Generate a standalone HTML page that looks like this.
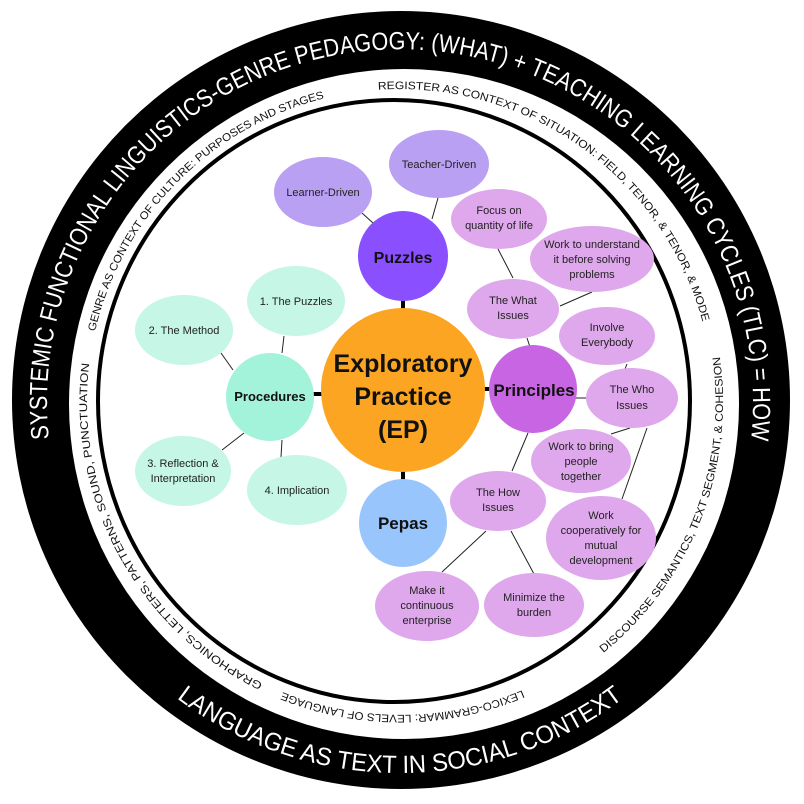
<!DOCTYPE html>
<html><head><meta charset="utf-8"><style>
html,body{margin:0;padding:0;background:#fff;}
svg{display:block;}
.t{font-family:"Liberation Sans",sans-serif;font-size:11px;fill:#222;text-anchor:middle;}
.b{font-family:"Liberation Sans",sans-serif;font-weight:bold;fill:#111;text-anchor:middle;}
.r{font-family:"Liberation Sans",sans-serif;font-size:11px;fill:#111;}
.o{font-family:"Liberation Sans",sans-serif;fill:#fff;}
</style></head><body>
<svg width="804" height="804" viewBox="0 0 804 804" xmlns="http://www.w3.org/2000/svg">
<defs>
<path id="pSys" d="M48.9,438.9 A353,353 0 1 1 751.1,438.9"/>
<path id="pLang" d="M176.7,698.3 A371,371 0 0 0 623.3,698.3"/>
<path id="pGenre" d="M95,331.6 A314,314 0 0 1 324.3,98.3"/>
<path id="pReg" d="M378.2,89.8 A314,314 0 0 1 702.3,321"/>
<path id="pLex" d="M522.3,690.1 A314,314 0 0 1 282.8,692.2"/>
<path id="pGra" d="M262.8,683.3 A314,314 0 0 1 89.3,363.8"/>
<path id="pDis" d="M603.3,653 A323,323 0 0 0 719.9,357"/>
</defs>
<circle cx="401" cy="400" r="389" fill="#000"/>
<circle cx="404" cy="404" r="335" fill="#fff"/>
<ellipse cx="394" cy="401" rx="296" ry="301" fill="none" stroke="#000" stroke-width="4"/>

<text class="o" font-size="25"><textPath href="#pSys" textLength="1183" lengthAdjust="spacingAndGlyphs">SYSTEMIC FUNCTIONAL LINGUISTICS-GENRE PEDAGOGY: (WHAT) + TEACHING LEARNING CYCLES (TLC) = HOW</textPath></text>
<text class="o" font-size="25"><textPath href="#pLang" textLength="479" lengthAdjust="spacingAndGlyphs">LANGUAGE AS TEXT IN SOCIAL CONTEXT</textPath></text>
<text class="r"><textPath href="#pGenre" textLength="344" lengthAdjust="spacingAndGlyphs">GENRE AS CONTEXT OF CULTURE: PURPOSES AND STAGES</textPath></text>
<text class="r"><textPath href="#pReg" textLength="432" lengthAdjust="spacingAndGlyphs">REGISTER AS CONTEXT OF SITUATION: FIELD, TENOR, &amp; TENOR, &amp; MODE</textPath></text>
<text class="r"><textPath href="#pLex" textLength="246" lengthAdjust="spacingAndGlyphs">LEXICO-GRAMMAR: LEVELS OF LANGUAGE</textPath></text>
<text class="r"><textPath href="#pGra" textLength="388" lengthAdjust="spacingAndGlyphs">GRAPHONICS, LETTERS, PATTERNS, SOUND, PUNCTUATION</textPath></text>
<text class="r"><textPath href="#pDis" textLength="333" lengthAdjust="spacingAndGlyphs">DISCOURSE SEMANTICS, TEXT SEGMENT, &amp; COHESION</textPath></text>

<g stroke="#222" stroke-width="1">
<line x1="362" y1="213" x2="373" y2="223"/>
<line x1="438" y1="198" x2="432" y2="219"/>
<line x1="284" y1="336" x2="282" y2="353"/>
<line x1="221" y1="353" x2="233" y2="370"/>
<line x1="222" y1="450" x2="244" y2="433"/>
<line x1="282" y1="440" x2="281" y2="457"/>
<line x1="498" y1="249" x2="513" y2="278"/>
<line x1="592" y1="292" x2="560" y2="306"/>
<line x1="527" y1="338" x2="530" y2="347"/>
<line x1="576" y1="398" x2="587" y2="398"/>
<line x1="627" y1="364" x2="625" y2="369"/>
<line x1="611" y1="434" x2="630" y2="428"/>
<line x1="647" y1="428" x2="622" y2="499"/>
<line x1="528" y1="433" x2="512" y2="471"/>
<line x1="486" y1="531" x2="442" y2="572"/>
<line x1="511" y1="531" x2="534" y2="574"/>
</g>
<g stroke="#000" stroke-width="4">
<line x1="403" y1="300" x2="403" y2="310"/>
<line x1="312" y1="394" x2="323" y2="394"/>
<line x1="483" y1="389" x2="492" y2="389"/>
<line x1="403" y1="470" x2="403" y2="481"/>
</g>

<!-- purple lights -->
<ellipse cx="323" cy="192" rx="49" ry="35" fill="#B9A0F2"/>
<ellipse cx="439" cy="164" rx="50" ry="34" fill="#B9A0F2"/>
<circle cx="403" cy="256" r="45" fill="#8A4FFF"/>
<!-- teal -->
<ellipse cx="296" cy="301" rx="49" ry="35" fill="#C6F6E6"/>
<ellipse cx="184" cy="330" rx="49" ry="35" fill="#C6F6E6"/>
<ellipse cx="183" cy="471" rx="48" ry="35" fill="#C6F6E6"/>
<ellipse cx="297" cy="490" rx="50" ry="35" fill="#C6F6E6"/>
<circle cx="270" cy="397" r="44" fill="#A3F2DA"/>
<!-- pinks -->
<g fill="#DFA7EC">
<ellipse cx="499" cy="219" rx="48" ry="30"/>
<ellipse cx="592" cy="259" rx="62" ry="33"/>
<ellipse cx="513" cy="309" rx="46" ry="30"/>
<ellipse cx="607" cy="336" rx="48" ry="29"/>
<ellipse cx="632" cy="398" rx="46" ry="30"/>
<ellipse cx="581" cy="461" rx="50" ry="32"/>
<ellipse cx="498" cy="501" rx="48" ry="30"/>
<ellipse cx="601" cy="538" rx="55" ry="42"/>
<ellipse cx="427" cy="606" rx="52" ry="35"/>
<ellipse cx="534" cy="605" rx="50" ry="32"/>
</g>
<circle cx="533" cy="389" r="44" fill="#C765E2"/>
<circle cx="403" cy="523" r="44" fill="#98C6FC"/>
<circle cx="403" cy="390" r="82" fill="#FBA522"/>

<text class="t" x="323" y="196">Learner-Driven</text>
<text class="t" x="439" y="168">Teacher-Driven</text>
<text class="b" x="403" y="263" font-size="16">Puzzles</text>
<text class="t" x="296" y="305">1. The Puzzles</text>
<text class="t" x="184" y="334">2. The Method</text>
<text class="t" x="183" y="467">3. Reflection &amp;</text>
<text class="t" x="183" y="482">Interpretation</text>
<text class="t" x="297" y="494">4. Implication</text>
<text class="b" x="270" y="401" font-size="13">Procedures</text>
<text class="b" x="403" y="372" font-size="25">Exploratory</text>
<text class="b" x="403" y="405" font-size="25">Practice</text>
<text class="b" x="403" y="438" font-size="25">(EP)</text>
<text class="b" x="534" y="396" font-size="17">Principles</text>
<text class="b" x="403" y="529" font-size="17">Pepas</text>
<text class="t" x="499" y="214">Focus on</text>
<text class="t" x="499" y="229">quantity of life</text>
<text class="t" x="592" y="248">Work to understand</text>
<text class="t" x="592" y="263">it before solving</text>
<text class="t" x="592" y="278">problems</text>
<text class="t" x="513" y="304">The What</text>
<text class="t" x="513" y="319">Issues</text>
<text class="t" x="607" y="331">Involve</text>
<text class="t" x="607" y="346">Everybody</text>
<text class="t" x="632" y="393">The Who</text>
<text class="t" x="632" y="409">Issues</text>
<text class="t" x="581" y="450">Work to bring</text>
<text class="t" x="581" y="465">people</text>
<text class="t" x="581" y="480">together</text>
<text class="t" x="498" y="496">The How</text>
<text class="t" x="498" y="511">Issues</text>
<text class="t" x="601" y="519">Work</text>
<text class="t" x="601" y="534">cooperatively for</text>
<text class="t" x="601" y="549">mutual</text>
<text class="t" x="601" y="564">development</text>
<text class="t" x="427" y="594">Make it</text>
<text class="t" x="427" y="609">continuous</text>
<text class="t" x="427" y="624">enterprise</text>
<text class="t" x="534" y="601">Minimize the</text>
<text class="t" x="534" y="616">burden</text>
</svg>
</body></html>
